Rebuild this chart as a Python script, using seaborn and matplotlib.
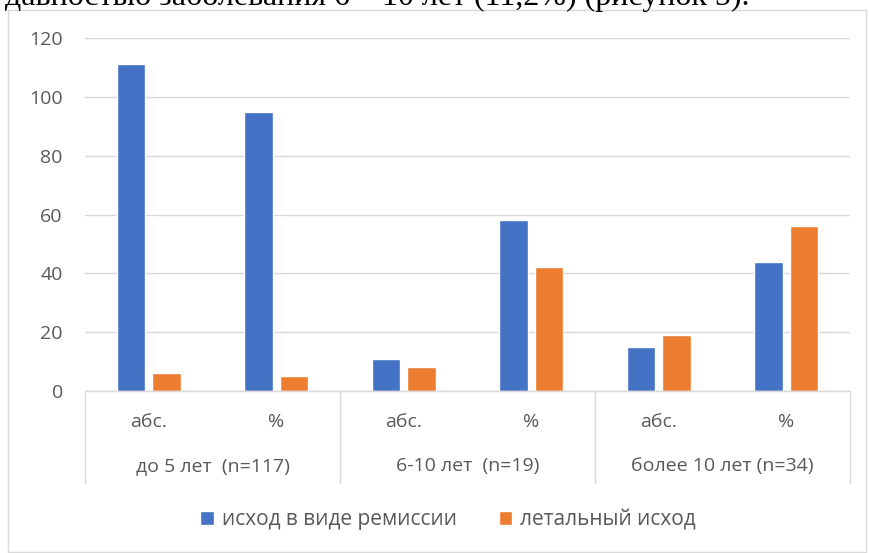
import matplotlib
matplotlib.use("Agg")
import matplotlib.pyplot as plt
import matplotlib.transforms as mtransforms
from matplotlib.patches import Rectangle
import seaborn as sns
import pandas as pd

# Outcome counts and shares by disease duration
groups = ["до 5 лет  (n=117)", "6-10 лет  (n=19)", "более 10 лет (n=34)"]
measures = ["абс.", "%"]
series = ["исход в виде ремиссии", "летальный исход"]
remission = [111, 95, 11, 58, 15, 44]
lethal = [6, 5, 8, 42, 19, 56]
y_ticks = [0, 20, 40, 60, 80, 100, 120]

colors = ["#4472C4", "#ED7D31"]
text_gray = "#595959"
grid_gray = "#D9D9D9"
fs = 14

keys = [f"{g}|{m}" for g in groups for m in measures]
df = pd.DataFrame({
    "key": keys * 2,
    "series": [series[0]] * len(keys) + [series[1]] * len(keys),
    "value": remission + lethal,
})

sns.set_theme(style="white")
plt.rcParams["font.family"] = ["Open Sans", "DejaVu Sans"]

W, H = 869, 553
fig = plt.figure(figsize=(W / 100, H / 100), dpi=100)
ax = fig.add_axes([85 / W, 1 - 391 / H, (850 - 85) / W, (391 - 38) / H])

sns.barplot(data=df, x="key", y="value", hue="series", order=keys,
            hue_order=series, palette=colors, width=0.557, gap=0.2,
            saturation=1, legend=True, ax=ax)

ax.set_ylim(0, 120)
ax.set_xlim(-0.5, len(keys) - 0.5)
ax.set_yticks(y_ticks)
ax.set_yticklabels([str(t) for t in y_ticks])
ax.yaxis.grid(True, color=grid_gray, linewidth=1.0)
ax.set_axisbelow(True)
for side in ["left", "right", "top"]:
    ax.spines[side].set_visible(False)
ax.spines["bottom"].set_color(grid_gray)
ax.spines["bottom"].set_linewidth(1.0)

ax.set_xticks(range(len(keys)))
ax.set_xticklabels([m for _ in groups for m in measures])
ax.tick_params(axis="x", length=0, pad=16, labelsize=fs, labelcolor=text_gray)
ax.tick_params(axis="y", length=0, pad=16, labelsize=fs, labelcolor=text_gray)
ax.set_xlabel("")
ax.set_ylabel("")

# Group separators and group names below the category axis
sep_tr = mtransforms.blended_transform_factory(ax.transData, fig.transFigure)
for x in [-0.5, 1.5, 3.5, 5.5]:
    ax.plot([x, x], [1 - 391 / H, 1 - 483 / H], color=grid_gray, lw=1.0,
            transform=sep_tr, clip_on=False)
for i, g in enumerate(groups):
    ax.text(2 * i + 0.5, 1 - 466 / H, g, transform=sep_tr, ha="center",
            va="center", fontsize=fs, color=text_gray)

# Legend with square swatches
handles, labels = ax.get_legend_handles_labels()
ax.get_legend().remove()
fig.legend(handles, labels, loc="center", bbox_to_anchor=(448 / W, 1 - 520 / H),
           ncol=2, frameon=False, fontsize=15, labelcolor=text_gray,
           handlelength=0.65, handleheight=0.65, handletextpad=0.4,
           columnspacing=2.0)

# Chart frame
fig.add_artist(Rectangle((8 / W, 1 / H), (866 - 8) / W, (543 - 1) / H,
                         transform=fig.transFigure, fill=False,
                         edgecolor=grid_gray, linewidth=1.0))

# Preceding line of the document text
fig.text(5 / W, 1 - 5 / H,
         "давностью заболевания 6 – 10 лет (11,2%) (рисунок 5).",
         family=["Liberation Serif", "DejaVu Serif"], fontsize=23,
         color="black", ha="left", va="baseline")

fig.savefig("out.png", dpi=100, facecolor="white")
